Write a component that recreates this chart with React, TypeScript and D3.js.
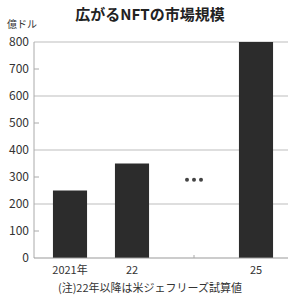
import React, { useEffect, useRef } from 'react';
import * as d3 from 'd3';

const title = '広がるNFTの市場規模';
const unitLabel = '億ドル';
const note = '(注)22年以降は米ジェフリーズ試算値';
const categories = ['2021年', '22', 'gap', '25'];
const values: (number | null)[] = [250, 350, null, 800];
const gridTicks = [0, 200, 400, 600, 800];
const minorTicks = [100, 300, 500, 700];
const yLabels = [0, 100, 200, 300, 400, 500, 600, 700, 800];

const W = 295;
const H = 295;
const FONT = '"Noto Sans CJK JP", "Noto Sans", sans-serif';

export default function App() {
    const svgRef = useRef<SVGSVGElement>(null);

    useEffect(() => {
        const svg = d3.select(svgRef.current);
        svg.selectAll('*').remove();

        const margin = { top: 42, right: 7, bottom: 37, left: 34 };
        const y = d3.scaleLinear().domain([0, 800]).range([H - margin.bottom, margin.top]);
        const x = d3.scaleBand<string>()
            .domain(categories)
            .range([margin.left + 5, W - margin.right - 1])
            .paddingInner(0.45)
            .paddingOuter(0.225);

        svg.append('rect').attr('width', W).attr('height', H).attr('fill', '#fff');

        // gridlines every 200
        svg.selectAll('.grid')
            .data(gridTicks.filter(d => d > 0))
            .enter().append('line')
            .attr('x1', margin.left)
            .attr('x2', W - margin.right)
            .attr('y1', d => y(d))
            .attr('y2', d => y(d))
            .attr('stroke', '#bdbdbd')
            .attr('stroke-width', 1);

        // minor ticks
        svg.selectAll('.minor')
            .data(minorTicks)
            .enter().append('line')
            .attr('x1', margin.left)
            .attr('x2', margin.left + 5)
            .attr('y1', d => y(d))
            .attr('y2', d => y(d))
            .attr('stroke', '#aaa');

        // y axis line
        svg.append('line')
            .attr('x1', margin.left).attr('x2', margin.left)
            .attr('y1', y(800)).attr('y2', y(0))
            .attr('stroke', '#aaa');

        svg.selectAll('.ylab')
            .data(yLabels)
            .enter().append('text')
            .attr('x', margin.left - 5)
            .attr('y', d => y(d))
            .attr('dy', '0.35em')
            .attr('text-anchor', 'end')
            .attr('font-family', FONT)
            .attr('font-size', 12)
            .attr('fill', '#333')
            .text(d => d);

        // bars
        const barData = categories.map((c, i) => ({ c, v: values[i] })).filter(d => d.v !== null);
        svg.selectAll('.bar')
            .data(barData)
            .enter().append('rect')
            .attr('x', d => x(d.c)!)
            .attr('y', d => y(d.v as number))
            .attr('width', x.bandwidth())
            .attr('height', d => y(0) - y(d.v as number))
            .attr('fill', '#2c2c2c');

        // baseline
        svg.append('line')
            .attr('x1', margin.left).attr('x2', W - margin.right)
            .attr('y1', y(0)).attr('y2', y(0))
            .attr('stroke', '#999');

        // tick at gap
        const gapX = x('gap')! + x.bandwidth() / 2;
        svg.append('line')
            .attr('x1', gapX).attr('x2', gapX)
            .attr('y1', y(0) - 3).attr('y2', y(0))
            .attr('stroke', '#aaa');

        // ellipsis dots
        svg.selectAll('.dot')
            .data([-7, 0, 7])
            .enter().append('circle')
            .attr('cx', d => gapX + d)
            .attr('cy', y(290))
            .attr('r', 2)
            .attr('fill', '#444');

        svg.selectAll('.xlab')
            .data(categories.filter(c => c !== 'gap'))
            .enter().append('text')
            .attr('x', d => x(d)! + x.bandwidth() / 2)
            .attr('y', y(0) + 16)
            .attr('text-anchor', 'middle')
            .attr('font-family', FONT)
            .attr('font-size', 11)
            .attr('fill', '#333')
            .text(d => d);

        svg.append('text')
            .attr('x', 150)
            .attr('y', 20)
            .attr('text-anchor', 'middle')
            .attr('font-family', FONT)
            .attr('font-weight', 'bold')
            .attr('font-size', 15)
            .attr('fill', '#222')
            .text(title);

        svg.append('text')
            .attr('x', 7)
            .attr('y', 28)
            .attr('font-family', FONT)
            .attr('font-size', 10)
            .attr('fill', '#333')
            .text(unitLabel);

        svg.append('text')
            .attr('x', 150)
            .attr('y', 292)
            .attr('text-anchor', 'middle')
            .attr('font-family', FONT)
            .attr('font-size', 11)
            .attr('fill', '#333')
            .text(note);
    }, []);

    return (
        <svg ref={svgRef} width={W} height={H}
            style={{ position: 'absolute', left: 0, top: 0, display: 'block' }}></svg>
    );
}
